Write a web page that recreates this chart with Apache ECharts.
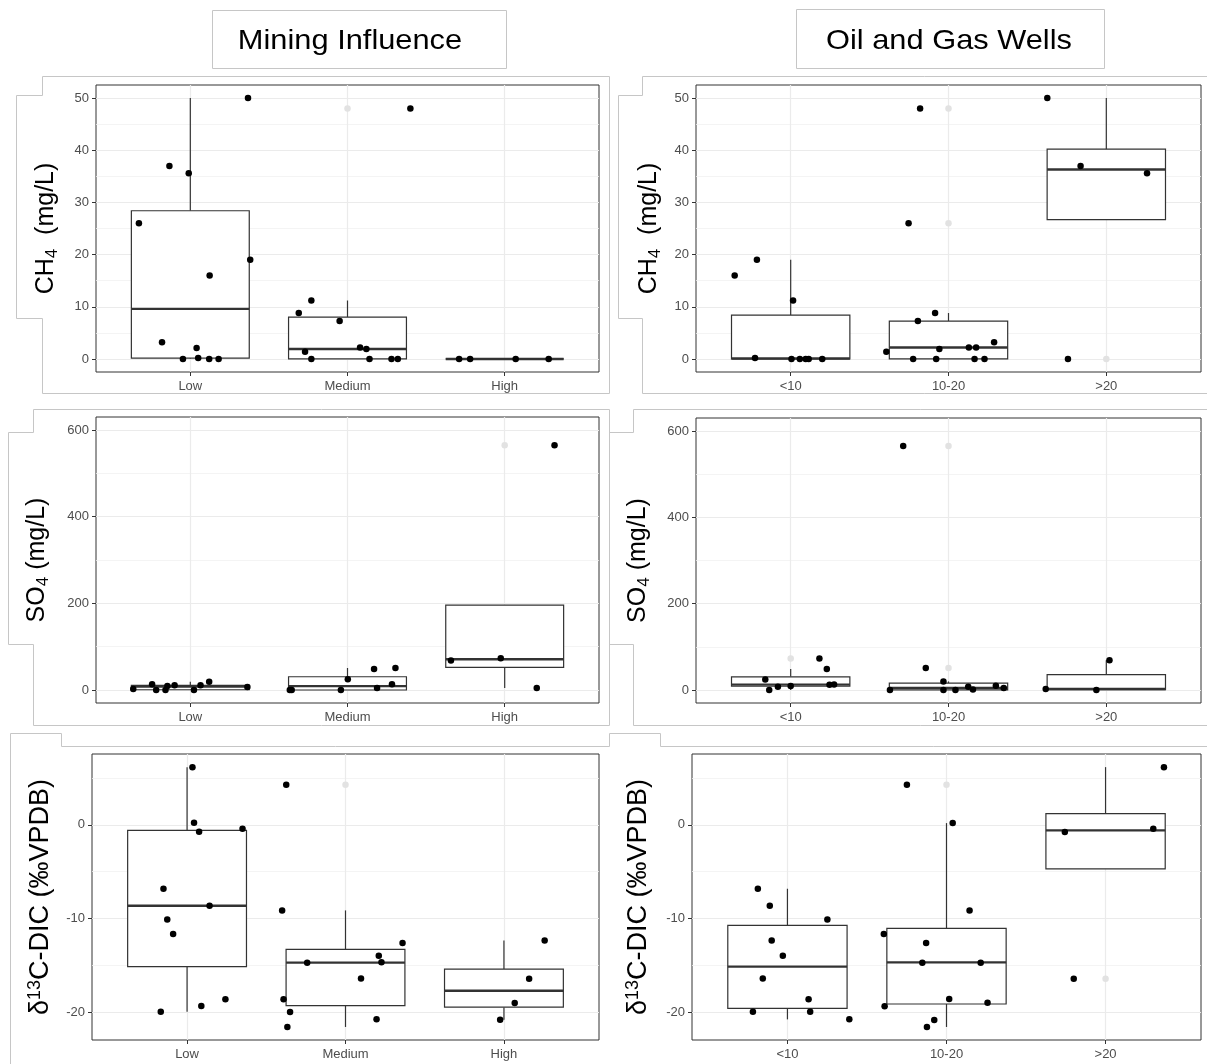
<!DOCTYPE html>
<html>
<head>
<meta charset="utf-8">
<script src="https://cdn.jsdelivr.net/npm/echarts@6/dist/echarts.min.js"></script>
<style>
html,body{margin:0;padding:0;background:#fff;}
#chart{width:1207px;height:1064px;}
</style>
</head>
<body>
<div id="chart"></div>
<script>
// ---------- categories & ticks ----------
const catsMining = ['Low', 'Medium', 'High'];
const catsWells = ['<10', '10-20', '>20'];
const catPositions = [1, 2, 3];

const ch4Range = [-2.5, 52.5];
const ch4Ticks = [0, 10, 20, 30, 40, 50];
const ch4Minor = [5, 15, 25, 35, 45];
const so4Range = [-30, 630];
const so4Ticks = [0, 200, 400, 600];
const so4Minor = [100, 300, 500];
const d13cRange = [-22.95, 7.55];
const d13cTicks = [-20, -10, 0];
const d13cMinor = [-15, -5, 5];

// ---------- box stats [lowWhisker, Q1, median, Q3, highWhisker] ----------
const ch4MiningBox = [[0, 0.15, 9.6, 28.4, 50], [0, 0, 1.9, 8.0, 11.2], [0, 0, 0, 0, 0]];
const ch4WellsBox = [[0, 0, 0.1, 8.4, 19], [0, 0, 2.2, 7.25, 8.8], [26.7, 26.7, 36.3, 40.2, 50]];
const so4MiningBox = [[0, 0.6, 8, 10.8, 19.2], [0, 0, 9, 30.6, 50.8], [4.6, 52.2, 71, 196, 196]];
const so4WellsBox = [[0, 8.8, 12.6, 30.6, 48.5], [0, 0.4, 5, 16, 20], [0, 1.2, 2.3, 35.6, 69]];
const d13cMiningBox = [[-19.93, -15.13, -8.63, -0.59, 6.15], [-21.56, -19.28, -14.7, -13.28, -9.13], [-20.8, -19.45, -17.7, -15.39, -12.33]];
const d13cWellsBox = [[-20.75, -19.57, -15.13, -10.73, -6.82], [-21.56, -19.11, -14.67, -11.05, 0.18], [-4.69, -4.69, -0.6, 1.2, 6.15]];

// ---------- boxplot outliers [category position, value] ----------
const ch4MiningOut = [[2, 48]];
const ch4WellsOut = [[2, 48], [2, 26], [3, 0]];
const so4MiningOut = [[3, 565]];
const so4WellsOut = [[1, 73], [2, 565], [2, 50.8]];
const d13cMiningOut = [[2, 4.26]];
const d13cWellsOut = [[2, 4.26], [3, -16.41]];

// ---------- jittered observations [jittered position, value] ----------
const ch4MiningPts = [
  [1.367, 50], [0.867, 37], [0.99, 35.6], [0.673, 26], [1.381, 19], [1.123, 16], [0.82, 3.2], [1.04, 2.1],
  [0.953, 0], [1.05, 0.2], [1.12, 0], [1.18, 0],
  [2.40, 48], [1.77, 11.2], [1.69, 8.8], [1.95, 7.25], [1.73, 1.4], [2.08, 2.2], [2.12, 1.9],
  [1.77, 0], [2.14, 0], [2.28, 0], [2.32, 0],
  [2.71, 0], [2.78, 0], [3.07, 0], [3.28, 0]
];
const ch4WellsPts = [
  [0.645, 16], [0.786, 19], [1.015, 11.2], [0.774, 0.2], [1.005, 0], [1.058, 0], [1.095, 0], [1.114, 0], [1.2, 0],
  [1.82, 48], [1.747, 26], [1.915, 8.8], [1.806, 7.25], [1.606, 1.4], [1.942, 1.9], [2.129, 2.2], [2.175, 2.2],
  [2.289, 3.2], [1.776, 0], [1.922, 0], [2.165, 0], [2.228, 0],
  [2.626, 50], [2.837, 37], [3.258, 35.6], [2.757, 0]
];
const so4MiningPts = [
  [0.637, 2.3], [0.757, 13.1], [0.783, 0], [0.842, 0], [0.854, 9.2], [0.90, 10.8], [1.023, 0], [1.065, 10.8],
  [1.12, 19.2], [1.363, 6.9],
  [1.633, 0], [1.645, 0], [1.958, 0], [2.002, 24.6], [2.169, 48.5], [2.188, 4.5], [2.283, 13], [2.305, 50.8],
  [2.658, 68], [2.975, 73], [3.204, 4.6], [3.317, 565]
];
const so4WellsPts = [
  [0.839, 24.6], [0.864, 0], [0.919, 7.7], [1.0, 9.2], [1.182, 73], [1.229, 48.5], [1.246, 12.3], [1.275, 13],
  [1.629, 0], [1.713, 565], [1.856, 50.8], [1.968, 20], [1.968, 0], [2.044, 0], [2.125, 7.7], [2.155, 1.5],
  [2.30, 10], [2.35, 4.6],
  [2.616, 2.3], [2.937, 0], [3.02, 69]
];
const d13cMiningPts = [
  [1.034, 6.15], [1.044, 0.21], [1.076, -0.75], [1.35, -0.43], [0.851, -6.82], [1.142, -8.63], [0.875, -10.09],
  [0.912, -11.65], [1.242, -18.61], [1.09, -19.32], [0.834, -19.93],
  [1.626, 4.26], [1.60, -9.13], [2.36, -12.6], [2.21, -13.96], [1.758, -14.7], [2.227, -14.67], [2.098, -16.38],
  [1.609, -18.6], [1.65, -19.96], [2.196, -20.75], [1.633, -21.56],
  [3.257, -12.33], [3.159, -16.41], [3.068, -19.0], [2.976, -20.8]
];
const d13cWellsPts = [
  [0.814, -6.82], [0.889, -8.63], [1.251, -10.09], [0.901, -12.33], [0.971, -13.96], [0.845, -16.38],
  [1.133, -18.61], [0.783, -19.93], [1.143, -19.93], [1.389, -20.75],
  [1.751, 4.26], [2.039, 0.18], [2.145, -9.13], [1.606, -11.65], [1.872, -12.6], [1.848, -14.7], [2.215, -14.7],
  [2.017, -18.58], [2.258, -18.97], [1.611, -19.36], [1.923, -20.82], [1.877, -21.56],
  [3.367, 6.15], [3.30, -0.43], [2.744, -0.78], [2.80, -16.41]
];

const nameCH4 = '{n|CH}{sub|4}{n|  (mg/L)}';
const nameSO4 = '{n|SO}{sub|4}{n| (mg/L)}';
const nameD13C = '{n|δ}{sup|13}{n|C-DIC (‰VPDB)}';

// ---------- layout ----------
const FONT = '"Liberation Sans", Arial, sans-serif';
const panels = [
  {grid: {left: 96, top: 85, width: 503, height: 287}, cats: catsMining, range: ch4Range, ticks: ch4Ticks, minor: ch4Minor, name: nameCH4, fs: 25, gap: 35, box: ch4MiningBox, out: ch4MiningOut, pts: ch4MiningPts},
  {grid: {left: 696, top: 85, width: 505, height: 287}, cats: catsWells, range: ch4Range, ticks: ch4Ticks, minor: ch4Minor, name: nameCH4, fs: 25, gap: 32, box: ch4WellsBox, out: ch4WellsOut, pts: ch4WellsPts},
  {grid: {left: 96, top: 417, width: 503, height: 286}, cats: catsMining, range: so4Range, ticks: so4Ticks, minor: so4Minor, name: nameSO4, fs: 25, gap: 44, box: so4MiningBox, out: so4MiningOut, pts: so4MiningPts},
  {grid: {left: 696, top: 418, width: 505, height: 285}, cats: catsWells, range: so4Range, ticks: so4Ticks, minor: so4Minor, name: nameSO4, fs: 25, gap: 43, box: so4WellsBox, out: so4WellsOut, pts: so4WellsPts},
  {grid: {left: 92, top: 754, width: 507, height: 286}, cats: catsMining, range: d13cRange, ticks: d13cTicks, minor: d13cMinor, name: nameD13C, fs: 27, gap: 36, box: d13cMiningBox, out: d13cMiningOut, pts: d13cMiningPts},
  {grid: {left: 692, top: 754, width: 509, height: 286}, cats: catsWells, range: d13cRange, ticks: d13cTicks, minor: d13cMinor, name: nameD13C, fs: 27, gap: 38, box: d13cWellsBox, out: d13cWellsOut, pts: d13cWellsPts}
];

function renderBox(params, api) {
  const x = api.value(0);
  const lo = api.value(1), q1 = api.value(2), med = api.value(3), q3 = api.value(4), hi = api.value(5);
  const tl = api.coord([x - 0.375, q3]);
  const br = api.coord([x + 0.375, q1]);
  const m = api.coord([x, med]);
  const top = api.coord([x, hi]);
  const bot = api.coord([x, lo]);
  const ls = {stroke: '#333333', lineWidth: 1.2, fill: null};
  return {
    type: 'group',
    children: [
      {type: 'line', shape: {x1: m[0], y1: top[1], x2: m[0], y2: tl[1]}, style: ls},
      {type: 'line', shape: {x1: m[0], y1: br[1], x2: m[0], y2: bot[1]}, style: ls},
      {type: 'rect', shape: {x: tl[0], y: tl[1], width: br[0] - tl[0], height: br[1] - tl[1]},
        style: {fill: '#ffffff', stroke: '#333333', lineWidth: 1.2}},
      {type: 'line', shape: {x1: tl[0], y1: m[1], x2: br[0], y2: m[1]}, style: {stroke: '#333333', lineWidth: 2.4}}
    ]
  };
}

const grid = [], xAxis = [], yAxis = [], series = [];
panels.forEach((p, i) => {
  grid.push(Object.assign({show: true, borderColor: '#333333', borderWidth: 1, backgroundColor: 'transparent'}, p.grid));
  xAxis.push({
    type: 'value', gridIndex: i, min: 0.4, max: 3.6,
    axisLine: {show: false, onZero: false},
    axisTick: {show: true, length: 4, customValues: catPositions, lineStyle: {color: '#333333', width: 1}},
    axisLabel: {customValues: catPositions, formatter: v => p.cats[Math.round(v) - 1], color: '#4d4d4d', fontSize: 13, margin: 8, fontFamily: FONT},
    splitLine: {show: true, lineStyle: {color: '#ebebeb', width: 1.2}}
  });
  yAxis.push({
    type: 'value', gridIndex: i, min: p.range[0], max: p.range[1],
    axisLine: {show: false, onZero: false},
    axisTick: {show: true, length: 4, customValues: p.ticks, lineStyle: {color: '#333333', width: 1}},
    axisLabel: {customValues: p.ticks, color: '#4d4d4d', fontSize: 13, margin: 7, fontFamily: FONT},
    splitLine: {show: true, lineStyle: {color: '#ebebeb', width: 1.2}},
    name: p.name, nameLocation: 'middle', nameRotate: 90, nameGap: p.gap,
    nameTextStyle: {
      color: '#000', fontFamily: FONT,
      rich: {
        n: {fontSize: p.fs, lineHeight: 30, color: '#000', fontFamily: FONT},
        sub: {fontSize: 17, lineHeight: 17, verticalAlign: 'bottom', color: '#000', fontFamily: FONT},
        sup: {fontSize: 18, lineHeight: 18, verticalAlign: 'top', color: '#000', fontFamily: FONT}
      }
    }
  });
  yAxis.push({
    type: 'value', gridIndex: i, min: p.range[0], max: p.range[1], position: 'left',
    axisLine: {show: false, onZero: false},
    axisTick: {show: false, customValues: p.minor},
    axisLabel: {show: false, customValues: p.minor},
    splitLine: {show: true, lineStyle: {color: '#f1f1f1', width: 0.8}}
  });
  series.push({
    type: 'custom', xAxisIndex: i, yAxisIndex: 2 * i, renderItem: renderBox, silent: true, z: 3,
    encode: {x: 0, y: [1, 2, 3, 4, 5]},
    data: p.box.map((b, k) => [catPositions[k]].concat(b))
  });
  series.push({
    type: 'scatter', xAxisIndex: i, yAxisIndex: 2 * i, data: p.out, symbolSize: 6.5, silent: true, z: 4,
    itemStyle: {color: '#e2e2e2', opacity: 1}
  });
  series.push({
    type: 'scatter', xAxisIndex: i, yAxisIndex: 2 * i, data: p.pts, symbolSize: 6.5, silent: true, z: 5,
    itemStyle: {color: '#000000', opacity: 1}
  });
});

const deco = {stroke: '#c6c6c6', lineWidth: 1, fill: null};
const graphic = [
  {type: 'polyline', shape: {points: [[609.5, 393.5], [609.5, 76.5], [42.5, 76.5], [42.5, 95.5], [16.5, 95.5], [16.5, 318.5], [42.5, 318.5], [42.5, 393.5], [609.5, 393.5]]}, style: deco, silent: true},
  {type: 'polyline', shape: {points: [[1207, 76.5], [642.5, 76.5], [642.5, 95.5], [618.5, 95.5], [618.5, 318.5], [642.5, 318.5], [642.5, 393.5], [1207, 393.5]]}, style: deco, silent: true},
  {type: 'polyline', shape: {points: [[609.5, 409.5], [33.5, 409.5], [33.5, 432.5], [8.5, 432.5], [8.5, 644.5], [33.5, 644.5], [33.5, 725.5], [609.5, 725.5], [609.5, 409.5]]}, style: deco, silent: true},
  {type: 'polyline', shape: {points: [[1207, 409.5], [633.5, 409.5], [633.5, 432.5], [609.5, 432.5]]}, style: deco, silent: true},
  {type: 'polyline', shape: {points: [[609.5, 644.5], [633.5, 644.5], [633.5, 725.5], [1207, 725.5]]}, style: deco, silent: true},
  {type: 'polyline', shape: {points: [[10.5, 1064], [10.5, 733.5], [61.5, 733.5], [61.5, 746.5], [609.5, 746.5]]}, style: deco, silent: true},
  {type: 'polyline', shape: {points: [[609.5, 746.5], [609.5, 733.5], [660.5, 733.5], [660.5, 746.5], [1207, 746.5]]}, style: deco, silent: true},
  {type: 'rect', shape: {x: 212.5, y: 10.5, width: 294, height: 58}, style: {fill: '#fff', stroke: '#c6c6c6', lineWidth: 1}, silent: true},
  {type: 'rect', shape: {x: 796.5, y: 9.5, width: 308, height: 59}, style: {fill: '#fff', stroke: '#c6c6c6', lineWidth: 1}, silent: true},
  {type: 'text', x: 350, y: 41, scaleX: 1.1, silent: true,
    style: {text: 'Mining Influence', fill: '#000', font: '28px "Liberation Sans", Arial, sans-serif', align: 'center', verticalAlign: 'middle'}},
  {type: 'text', x: 949, y: 41, scaleX: 1.1, silent: true,
    style: {text: 'Oil and Gas Wells', fill: '#000', font: '28px "Liberation Sans", Arial, sans-serif', align: 'center', verticalAlign: 'middle'}}
];

const chart = echarts.init(document.getElementById('chart'), null, {renderer: 'canvas'});
chart.setOption({
  backgroundColor: '#ffffff',
  animation: false,
  textStyle: {fontFamily: FONT},
  grid, xAxis, yAxis, series, graphic
});
</script>
</body>
</html>
